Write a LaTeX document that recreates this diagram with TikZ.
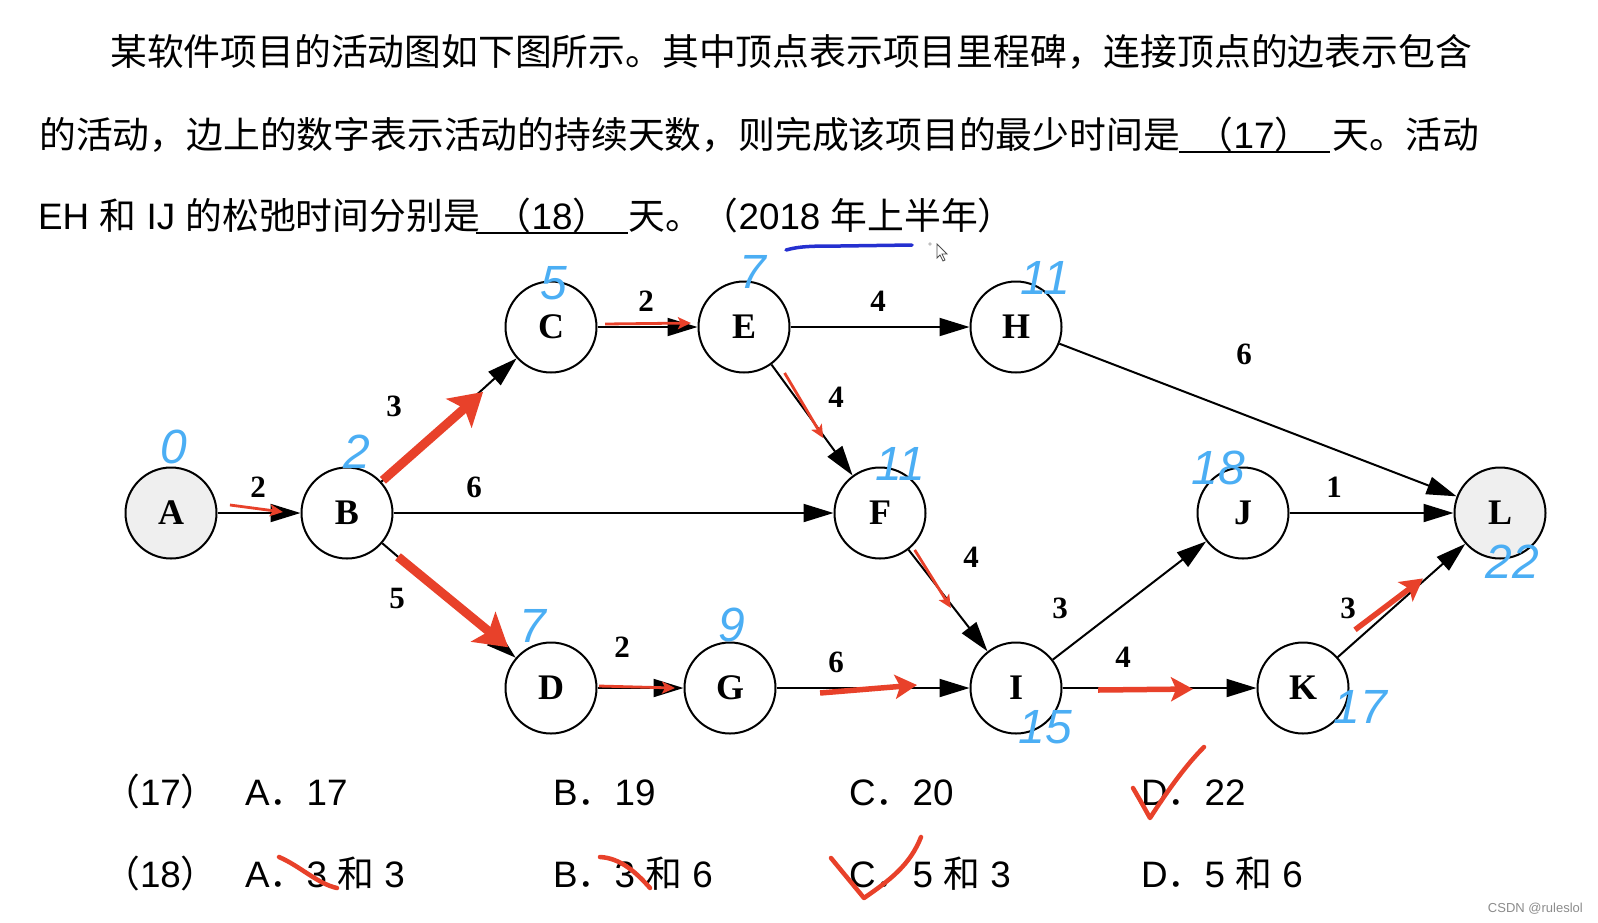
\documentclass[tikz,border=0pt]{standalone}
\usepackage{fontspec}
\setmainfont{Liberation Sans}
\newfontfamily\zh{Noto Sans CJK SC}
\newfontfamily\gv{Liberation Serif}
\usetikzlibrary{arrows.meta, calc}
\definecolor{cMark}{HTML}{E8412A}
\definecolor{cHand}{HTML}{4BAEF4}
\definecolor{cPen} {HTML}{2530D0}
\definecolor{cFill}{HTML}{EFEFEF}

\begin{document}
\begin{tikzpicture}[
  x=1pt, y=-1pt,
  txt/.style={inner sep=0pt, anchor=base west, font=\fontsize{36.8}{44}\selectfont},
  ctxt/.style={txt, anchor=base},
  ms/.style={circle, draw, line width=2pt, minimum size=91pt, inner sep=0pt,
    font=\gv\bfseries\fontsize{36}{36}\selectfont},
  msend/.style={ms, fill=cFill},
  edge/.style={-{Triangle[length=30pt,width=18pt]}, line width=2pt},
  dur/.style={inner sep=0pt, font=\gv\bfseries\fontsize{31}{31}\selectfont},
  hand/.style={inner sep=0pt, text=cHand, font=\itshape\fontsize{48}{48}\selectfont},
  hlthin/.style={cMark, line width=2.8pt, -{Stealth[length=13pt,width=12pt,inset=3pt]}},
  hlmid/.style={cMark, line width=5.5pt, -{Stealth[length=22pt,width=24pt,inset=5pt]}},
  hlthick/.style={cMark, line width=9pt, -{Stealth[length=32pt,width=38pt,inset=7pt]}},
  pen/.style={cMark, line width=4.5pt, line cap=round, line join=round},
]
\fill[white] (0,0) rectangle (1598,922);
\useasboundingbox (0,0) rectangle (1598,922);

%% ── question text ───────────────────────────────────────────────────
\node[txt] (q1) at (110,65)
  {\zh 某软件项目的活动图如下图所示。其中顶点表示项目里程碑，连接顶点的边表示包含};
\node[txt] (q2) at (39,148)
  {\zh 的活动，边上的数字表示活动的持续天数，则完成该项目的最少时间是};
\node[ctxt] (b17) at (1254,148) {{\zh （}17{\zh ）}};
\node[txt] (q2b) at (1332,148) {\zh 天。活动};
\node[txt] (q3) at (38,229) {EH {\zh 和} IJ {\zh 的松弛时间分别是}};
\node[ctxt] (b18) at (552,229) {{\zh （}18{\zh ）}};
\node[txt] (q3b) at (628,229) {{\zh 天。（}2018 {\zh 年上半年）}};
\draw[line width=2.5pt] (1179,152) -- (1330,152);
\draw[line width=2.5pt] (476,233) -- (628,233);

% pen mark under the year, and the mouse pointer
\draw[cPen, line width=3.5pt, line cap=round] (786,250) .. controls (800,246) and (815,246) .. (840,246) -- (912,245);
\fill[black!25] (930,244) circle (1.8pt);
\draw[black!70, line width=0.8pt, fill=white] (937,244) -- (937,258) -- (940,255) -- (943,261)
  -- (945,260) -- (942,254) -- (947,254) -- cycle;

%% ── milestones ──────────────────────────────────────────────────────
\node[msend] (A) at (171,513) {A};
\node[ms] (B) at (347,513) {B};
\node[ms] (C) at (551,327) {C};
\node[ms] (E) at (744,327) {E};
\node[ms] (H) at (1016,327) {H};
\node[ms] (F) at (880,513) {F};
\node[ms] (J) at (1243,513) {J};
\node[msend] (L) at (1500,513) {L};
\node[ms] (D) at (551,688) {D};
\node[ms] (G) at (730,688) {G};
\node[ms] (I) at (1016,688) {I};
\node[ms] (K) at (1303,688) {K};

%% ── activities ──────────────────────────────────────────────────────
\draw[edge] (A) -- (B);
\draw[edge] (B) -- (C);
\draw[edge] (B) -- (F);
\draw[edge] (B) -- (D);
\draw[edge] (C) -- (E);
\draw[edge] (E) -- (H);
\draw[edge] (E) -- (F);
\draw[edge] (H) -- (L);
\draw[edge] (F) -- (I);
\draw[edge] (D) -- (G);
\draw[edge] (G) -- (I);
\draw[edge] (I) -- (J);
\draw[edge] (I) -- (K);
\draw[edge] (J) -- (L);
\draw[edge] (K) -- (L);

\node[dur] (wAB) at (258,487) {2};
\node[dur] (wBC) at (394,406) {3};
\node[dur] (wBF) at (474,487) {6};
\node[dur] (wBD) at (397,598) {5};
\node[dur] (wCE) at (646,301) {2};
\node[dur] (wEH) at (878,301) {4};
\node[dur] (wEF) at (836,397) {4};
\node[dur] (wHL) at (1244,354) {6};
\node[dur] (wFI) at (971,557) {4};
\node[dur] (wDG) at (622,647) {2};
\node[dur] (wGI) at (836,662) {6};
\node[dur] (wIJ) at (1060,608) {3};
\node[dur] (wIK) at (1123,657) {4};
\node[dur] (wJL) at (1334,487) {1};
\node[dur] (wKL) at (1348,608) {3};

%% ── critical path marks (red) ───────────────────────────────────────
\draw[hlthin]  ($(A)!0.335!(B)+(0,-8)$) -- ($(A)!0.636!(B)+(0,-1)$);
\draw[hlthick] ($(B)!0.176!(C)$) -- ($(B)!0.667!(C)+(0,3)$);
\draw[hlthick] ($(B)!0.25!(D)$) -- ($(B)!0.79!(D)+(0,-4)$);
\draw[hlthin]  ($(C)!0.28!(E)+(0,-3)$) -- ($(C)!0.725!(E)+(0,-4)$);
\draw[hlthin]  ($(E)!0.247!(F)+(7,0)$) -- ($(E)!0.597!(F)+(-2,0)$);
\draw[hlthin]  ($(F)!0.211!(I)+(6,0)$) -- ($(F)!0.543!(I)+(-3,0)$);
\draw[hlthin]  ($(D)!0.268!(G)+(0,-2)$) -- ($(D)!0.693!(G)$);
\draw[hlmid]   ($(G)!0.315!(I)+(0,5)$) -- ($(G)!0.654!(I)+(0,-3)$);
\draw[hlmid]   ($(I)!0.286!(K)+(0,2)$) -- ($(I)!0.617!(K)+(0,1)$);
\draw[hlmid]   ($(K)!0.264!(L)+(0,-12)$) -- ($(K)!0.609!(L)+(0,-3)$);

%% ── earliest times (blue handwriting) ───────────────────────────────
\node[hand] (tA) at (174,447) {0};
\node[hand] (tB) at (357,452) {2};
\node[hand] (tC) at (554,283) {5};
\node[hand] (tE) at (753,272) {7};
\node[hand] (tH) at (1045,278) {11};
\node[hand] (tF) at (900,464) {11};
\node[hand] (tJ) at (1218,468) {18};
\node[hand] (tL) at (1512,562) {22};
\node[hand] (tD) at (533,626) {7};
\node[hand] (tG) at (732,625) {9};
\node[hand] (tI) at (1045,727) {15};
\node[hand] (tK) at (1360,707) {17};

%% ── options ─────────────────────────────────────────────────────────
\node[txt] (o17) at (103,805) {{\zh （}17{\zh ）}};
\node[txt] (o17a) at (245,805) {A{\zh ．}17};
\node[txt] (o17b) at (553,805) {B{\zh ．}19};
\node[txt] (o17c) at (849,805) {C{\zh ．}20};
\node[txt] (o17d) at (1141,805) {D{\zh ．}22};
\node[txt] (o18) at (103,887) {{\zh （}18{\zh ）}};
\node[txt] (o18a) at (245,887) {A{\zh ．}3 {\zh 和} 3};
\node[txt] (o18b) at (553,887) {B{\zh ．}3 {\zh 和} 6};
\node[txt] (o18c) at (849,887) {C{\zh ．}5 {\zh 和} 3};
\node[txt] (o18d) at (1141,887) {D{\zh ．}5 {\zh 和} 6};

% ticks and strikes
\draw[pen] (1133,788) .. controls (1140,800) .. (1150,818)
  .. controls (1168,790) and (1186,765) .. (1204,747);
\draw[pen] (831,858) -- (864,898) .. controls (890,880) and (910,865) .. (921,837);
\draw[pen] (279,857) .. controls (300,866) and (318,884) .. (337,888);
\draw[pen] (600,857) .. controls (620,858) and (636,872) .. (650,888);

\node[inner sep=0pt, anchor=base east, text=black!45, font=\fontsize{13}{13}\selectfont]
  (wm) at (1583,912) {CSDN @ruleslol};

\end{tikzpicture}
\end{document}
